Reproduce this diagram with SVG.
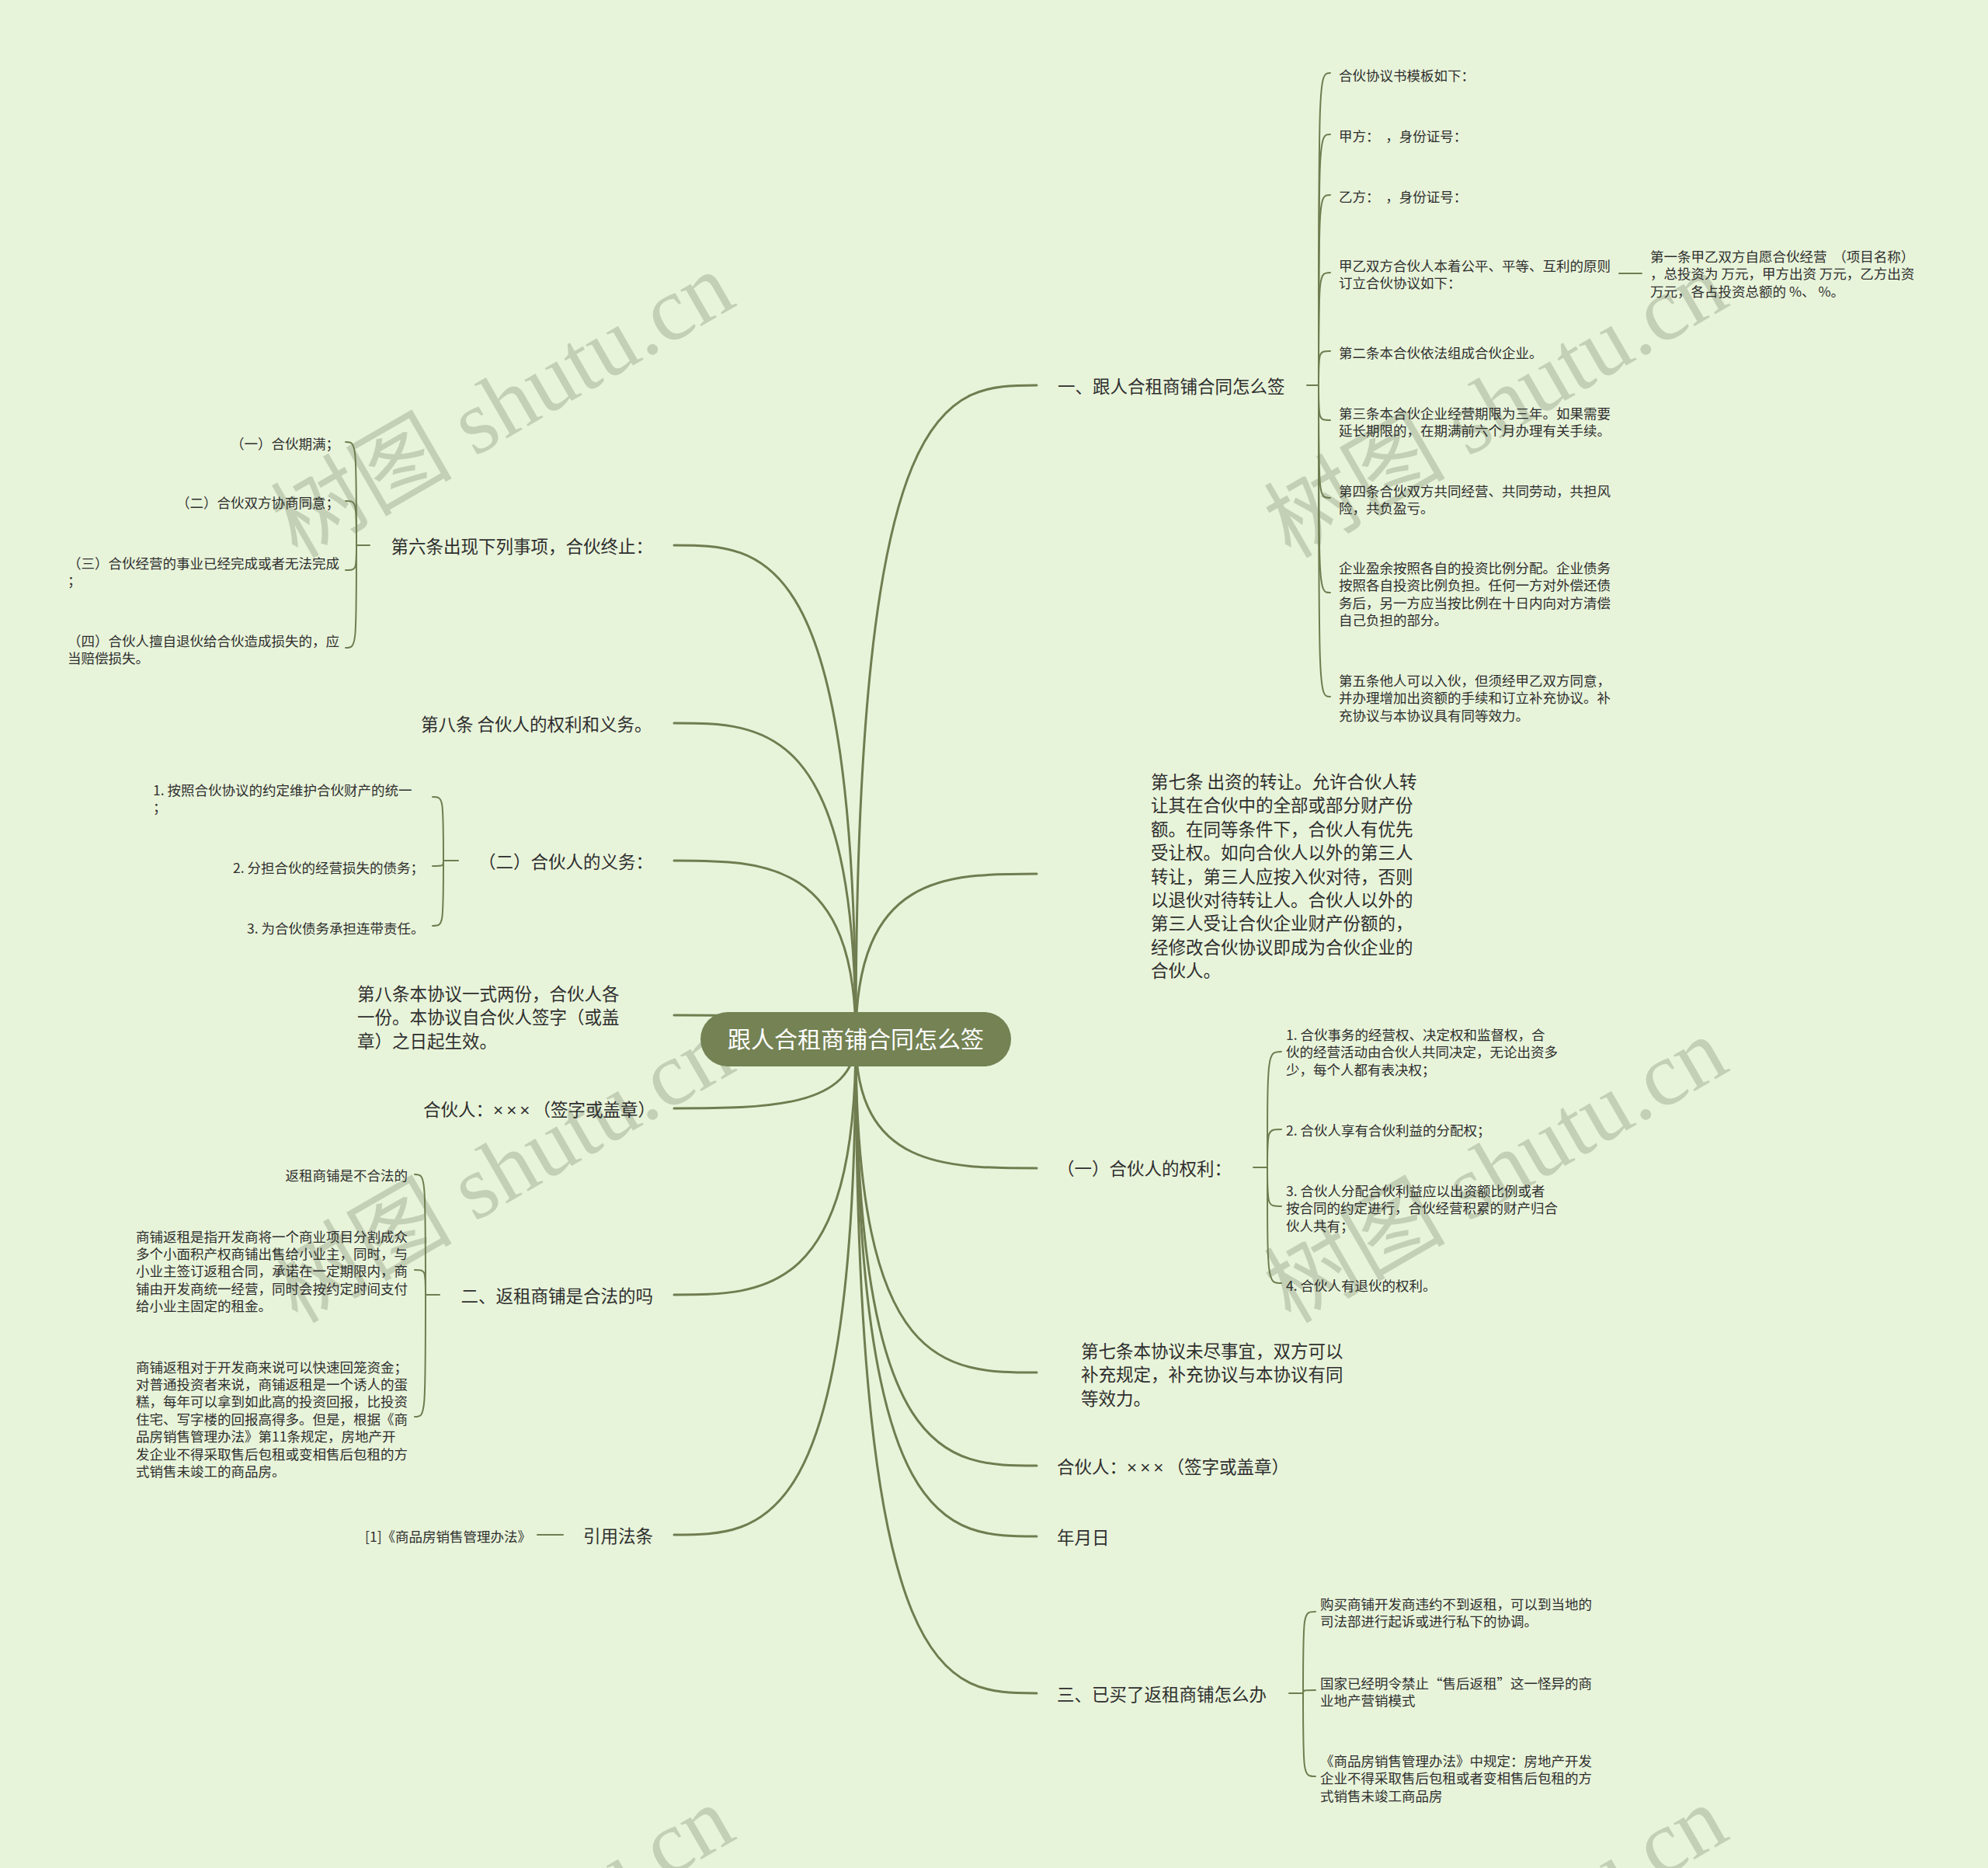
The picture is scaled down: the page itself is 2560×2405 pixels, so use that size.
<svg xmlns="http://www.w3.org/2000/svg" width="2560" height="2405" viewBox="0 0 2560 2405">
<style>
.bg{fill:#e8f4da}
.n1{font-family:"Noto Sans CJK SC","Noto Sans",sans-serif;font-size:22.5px;fill:#2f2f2f}
.n2{font-family:"Noto Sans CJK SC","Noto Sans",sans-serif;font-size:17.5px;fill:#2f2f2f}
.rt{font-family:"Noto Sans CJK SC","Noto Sans",sans-serif;font-size:30px;fill:#ffffff}
.x{font-family:"Liberation Sans",sans-serif;letter-spacing:4px}
.c{fill:none;stroke:#707d50;stroke-width:3;stroke-linecap:round}
.b{fill:none;stroke:#707d50;stroke-width:2;stroke-linecap:round}
.wm{font-family:"Liberation Serif","Noto Sans CJK SC",serif;font-size:117px;fill:#8f9c83;opacity:.4}
</style>
<rect class="bg" x="0" y="0" width="2560" height="2405"/>
<g id="watermarks">
<text class="wm" text-anchor="middle" transform="translate(667,556) rotate(-30)">树图 shutu.cn</text>
<text class="wm" text-anchor="middle" transform="translate(1946,556) rotate(-30)">树图 shutu.cn</text>
<text class="wm" text-anchor="middle" transform="translate(667,1541) rotate(-30)">树图 shutu.cn</text>
<text class="wm" text-anchor="middle" transform="translate(1946,1541) rotate(-30)">树图 shutu.cn</text>
<text class="wm" text-anchor="middle" transform="translate(667,2530) rotate(-30)">树图 shutu.cn</text>
<text class="wm" text-anchor="middle" transform="translate(1946,2530) rotate(-30)">树图 shutu.cn</text>
</g>
<g id="connectors">
<path class="c" d="M1102 1338 C1102 496 1218 496 1335 496"/>
<path class="c" d="M1102 1338 C1102 1125 1218 1125 1335 1125"/>
<path class="c" d="M1102 1338 C1102 1504 1218 1504 1335 1504"/>
<path class="c" d="M1102 1338 C1102 1767 1218 1767 1335 1767"/>
<path class="c" d="M1102 1338 C1102 1887 1218 1887 1335 1887"/>
<path class="c" d="M1102 1338 C1102 1978 1218 1978 1335 1978"/>
<path class="c" d="M1102 1338 C1102 2180 1218 2180 1335 2180"/>
<path class="c" d="M1102 1338 C1102 702 985 702 868 702"/>
<path class="c" d="M1102 1338 C1102 931 985 931 868 931"/>
<path class="c" d="M1102 1338 C1102 1108 985 1108 868 1108"/>
<path class="c" d="M1102 1338 C1102 1307 985 1307 868 1307"/>
<path class="c" d="M1102 1338 C1102 1427 985 1427 868 1427"/>
<path class="c" d="M1102 1338 C1102 1667 985 1667 868 1667"/>
<path class="c" d="M1102 1338 C1102 1976 985 1976 868 1976"/>
<path class="b" d="M1683 496 L1698 496"/>
<path class="b" d="M1698 496 C1698 94 1698 94 1713 94"/>
<path class="b" d="M1698 496 C1698 173 1698 173 1713 173"/>
<path class="b" d="M1698 496 C1698 251 1698 251 1713 251"/>
<path class="b" d="M1698 496 C1698 351 1698 351 1713 351"/>
<path class="b" d="M1698 496 C1698 452 1698 452 1713 452"/>
<path class="b" d="M1698 496 C1698 541 1698 541 1713 541"/>
<path class="b" d="M1698 496 C1698 641 1698 641 1713 641"/>
<path class="b" d="M1698 496 C1698 763 1698 763 1713 763"/>
<path class="b" d="M1698 496 C1698 897 1698 897 1713 897"/>
<path class="b" d="M2085 352 L2114 352"/>
<path class="b" d="M1614 1503 L1632 1503"/>
<path class="b" d="M1632 1503 C1632 1354 1632 1354 1650 1354"/>
<path class="b" d="M1632 1503 C1632 1454 1632 1454 1650 1454"/>
<path class="b" d="M1632 1503 C1632 1553 1632 1553 1650 1553"/>
<path class="b" d="M1632 1503 C1632 1652 1632 1652 1650 1652"/>
<path class="b" d="M1660 2180 L1678 2180"/>
<path class="b" d="M1678 2180 C1678 2075 1678 2075 1694 2075"/>
<path class="b" d="M1678 2180 C1678 2176 1678 2176 1694 2176"/>
<path class="b" d="M1678 2180 C1678 2287 1678 2287 1694 2287"/>
<path class="b" d="M476 702 L459 702"/>
<path class="b" d="M459 702 C459 569 459 569 445 569"/>
<path class="b" d="M459 702 C459 645 459 645 445 645"/>
<path class="b" d="M459 702 C459 734 459 734 445 734"/>
<path class="b" d="M459 702 C459 834 459 834 445 834"/>
<path class="b" d="M590 1108 L571 1108"/>
<path class="b" d="M571 1108 C571 1026 571 1026 557 1026"/>
<path class="b" d="M571 1108 C571 1115 571 1115 557 1115"/>
<path class="b" d="M571 1108 C571 1192 571 1192 557 1192"/>
<path class="b" d="M566 1667 L548 1667"/>
<path class="b" d="M548 1667 C548 1512 548 1512 534 1512"/>
<path class="b" d="M548 1667 C548 1635 548 1635 534 1635"/>
<path class="b" d="M548 1667 C548 1824 548 1824 534 1824"/>
<path class="b" d="M692 1976 L725 1976"/>
</g>
<g id="root">
<rect x="902" y="1303" width="400" height="70" rx="35" fill="#748254"/>
<text class="rt" x="1102" y="1349" text-anchor="middle">跟人合租商铺合同怎么签</text>
</g>
<g id="r1"><text class="n1" x="1362" y="506">一、跟人合租商铺合同怎么签</text></g>
<g id="r1c1"><text class="n2" x="1724" y="103.5">合伙协议书模板如下：</text></g>
<g id="r1c2"><text class="n2" x="1724" y="181.5">甲方：&#160;&#160;，身份证号：</text></g>
<g id="r1c3"><text class="n2" x="1724" y="259.5">乙方：&#160;&#160;，身份证号：</text></g>
<g id="r1c4"><text class="n2" x="1724" y="348.5">甲乙双方合伙人本着公平、平等、互利的原则<tspan x="1724" dy="22.5">订立合伙协议如下：</tspan></text></g>
<g id="r1c4a"><text class="n2" x="2125" y="336.5">第一条甲乙双方自愿合伙经营&#160;&#160;（项目名称）<tspan x="2125" dy="22.5">，总投资为 万元，甲方出资 万元，乙方出资</tspan><tspan x="2125" dy="22.5">万元，各占投资总额的 %、 %。</tspan></text></g>
<g id="r1c5"><text class="n2" x="1724" y="460.5">第二条本合伙依法组成合伙企业。</text></g>
<g id="r1c6"><text class="n2" x="1724" y="538.5">第三条本合伙企业经营期限为三年。如果需要<tspan x="1724" dy="22.5">延长期限的，在期满前六个月办理有关手续。</tspan></text></g>
<g id="r1c7"><text class="n2" x="1724" y="638.5">第四条合伙双方共同经营、共同劳动，共担风<tspan x="1724" dy="22.5">险，共负盈亏。</tspan></text></g>
<g id="r1c8"><text class="n2" x="1724" y="738">企业盈余按照各自的投资比例分配。企业债务<tspan x="1724" dy="22.4">按照各自投资比例负担。任何一方对外偿还债</tspan><tspan x="1724" dy="22.4">务后，另一方应当按比例在十日内向对方清偿</tspan><tspan x="1724" dy="22.4">自己负担的部分。</tspan></text></g>
<g id="r1c9"><text class="n2" x="1724" y="883">第五条他人可以入伙，但须经甲乙双方同意，<tspan x="1724" dy="22.4">并办理增加出资额的手续和订立补充协议。补</tspan><tspan x="1724" dy="22.4">充协议与本协议具有同等效力。</tspan></text></g>
<g id="r2"><text class="n1" x="1482" y="1015">第七条 出资的转让。允许合伙人转<tspan x="1482" dy="30.4">让其在合伙中的全部或部分财产份</tspan><tspan x="1482" dy="30.4">额。在同等条件下，合伙人有优先</tspan><tspan x="1482" dy="30.4">受让权。如向合伙人以外的第三人</tspan><tspan x="1482" dy="30.4">转让，第三人应按入伙对待，否则</tspan><tspan x="1482" dy="30.4">以退伙对待转让人。合伙人以外的</tspan><tspan x="1482" dy="30.4">第三人受让合伙企业财产份额的，</tspan><tspan x="1482" dy="30.4">经修改合伙协议即成为合伙企业的</tspan><tspan x="1482" dy="30.4">合伙人。</tspan></text></g>
<g id="r3"><text class="n1" x="1361" y="1513">（一）合伙人的权利：</text></g>
<g id="r3c1"><text class="n2" x="1656" y="1338.5">1. 合伙事务的经营权、决定权和监督权，合<tspan x="1656" dy="22.5">伙的经营活动由合伙人共同决定，无论出资多</tspan><tspan x="1656" dy="22.5">少，每个人都有表决权；</tspan></text></g>
<g id="r3c2"><text class="n2" x="1656" y="1461.5">2. 合伙人享有合伙利益的分配权；</text></g>
<g id="r3c3"><text class="n2" x="1656" y="1539.5">3. 合伙人分配合伙利益应以出资额比例或者<tspan x="1656" dy="22.5">按合同的约定进行，合伙经营积累的财产归合</tspan><tspan x="1656" dy="22.5">伙人共有；</tspan></text></g>
<g id="r3c4"><text class="n2" x="1656" y="1661.5">4. 合伙人有退伙的权利。</text></g>
<g id="r4"><text class="n1" x="1392" y="1748">第七条本协议未尽事宜，双方可以<tspan x="1392" dy="30.4">补充规定，补充协议与本协议有同</tspan><tspan x="1392" dy="30.4">等效力。</tspan></text></g>
<g id="r5"><text class="n1" x="1361" y="1897">合伙人：<tspan class="x">×××</tspan>（签字或盖章）</text></g>
<g id="r6"><text class="n1" x="1361" y="1988">年月日</text></g>
<g id="r7"><text class="n1" x="1361" y="2190">三、已买了返租商铺怎么办</text></g>
<g id="r7c1"><text class="n2" x="1700" y="2071.5">购买商铺开发商违约不到返租，可以到当地的<tspan x="1700" dy="22.5">司法部进行起诉或进行私下的协调。</tspan></text></g>
<g id="r7c2"><text class="n2" x="1700" y="2173.5">国家已经明令禁止“售后返租”这一怪异的商<tspan x="1700" dy="22.5">业地产营销模式</tspan></text></g>
<g id="r7c3"><text class="n2" x="1700" y="2273.5">《商品房销售管理办法》中规定：房地产开发<tspan x="1700" dy="22.5">企业不得采取售后包租或者变相售后包租的方</tspan><tspan x="1700" dy="22.5">式销售未竣工商品房</tspan></text></g>
<g id="l1"><text class="n1" x="841" y="712" text-anchor="end">第六条出现下列事项，合伙终止：</text></g>
<g id="l1c1"><text class="n2" x="437" y="578" text-anchor="end">（一）合伙期满；</text></g>
<g id="l1c2"><text class="n2" x="437" y="653.5" text-anchor="end">（二）合伙双方协商同意；</text></g>
<g id="l1c3"><text class="n2" x="87" y="731.5">（三）合伙经营的事业已经完成或者无法完成<tspan x="87" dy="22.5">；</tspan></text></g>
<g id="l1c4"><text class="n2" x="87" y="831.5">（四）合伙人擅自退伙给合伙造成损失的，应<tspan x="87" dy="22.5">当赔偿损失。</tspan></text></g>
<g id="l2"><text class="n1" x="542" y="941">第八条 合伙人的权利和义务。</text></g>
<g id="l3"><text class="n1" x="841" y="1118" text-anchor="end">（二）合伙人的义务：</text></g>
<g id="l3c1"><text class="n2" x="197" y="1023.5">1. 按照合伙协议的约定维护合伙财产的统一<tspan x="197" dy="22.5">；</tspan></text></g>
<g id="l3c2"><text class="n2" x="300" y="1123.5">2. 分担合伙的经营损失的债务；</text></g>
<g id="l3c3"><text class="n2" x="318" y="1201.5">3. 为合伙债务承担连带责任。</text></g>
<g id="l4"><text class="n1" x="460" y="1288">第八条本协议一式两份，合伙人各<tspan x="460" dy="30.4">一份。本协议自合伙人签字（或盖</tspan><tspan x="460" dy="30.4">章）之日起生效。</tspan></text></g>
<g id="l5"><text class="n1" x="545" y="1437">合伙人：<tspan class="x">×××</tspan>（签字或盖章）</text></g>
<g id="l6"><text class="n1" x="841" y="1677" text-anchor="end">二、返租商铺是合法的吗</text></g>
<g id="l6c1"><text class="n2" x="525" y="1520" text-anchor="end">返租商铺是不合法的</text></g>
<g id="l6c2"><text class="n2" x="175" y="1598.5">商铺返租是指开发商将一个商业项目分割成众<tspan x="175" dy="22.4">多个小面积产权商铺出售给小业主，同时，与</tspan><tspan x="175" dy="22.4">小业主签订返租合同，承诺在一定期限内，商</tspan><tspan x="175" dy="22.4">铺由开发商统一经营，同时会按约定时间支付</tspan><tspan x="175" dy="22.4">给小业主固定的租金。</tspan></text></g>
<g id="l6c3"><text class="n2" x="175" y="1766.5">商铺返租对于开发商来说可以快速回笼资金；<tspan x="175" dy="22.4">对普通投资者来说，商铺返租是一个诱人的蛋</tspan><tspan x="175" dy="22.4">糕，每年可以拿到如此高的投资回报，比投资</tspan><tspan x="175" dy="22.4">住宅、写字楼的回报高得多。但是，根据《商</tspan><tspan x="175" dy="22.4">品房销售管理办法》第11条规定，房地产开</tspan><tspan x="175" dy="22.4">发企业不得采取售后包租或变相售后包租的方</tspan><tspan x="175" dy="22.4">式销售未竣工的商品房。</tspan></text></g>
<g id="l7"><text class="n1" x="841" y="1986" text-anchor="end">引用法条</text></g>
<g id="l7c1"><text class="n2" x="470" y="1984.5">[1]《商品房销售管理办法》</text></g>
</svg>
